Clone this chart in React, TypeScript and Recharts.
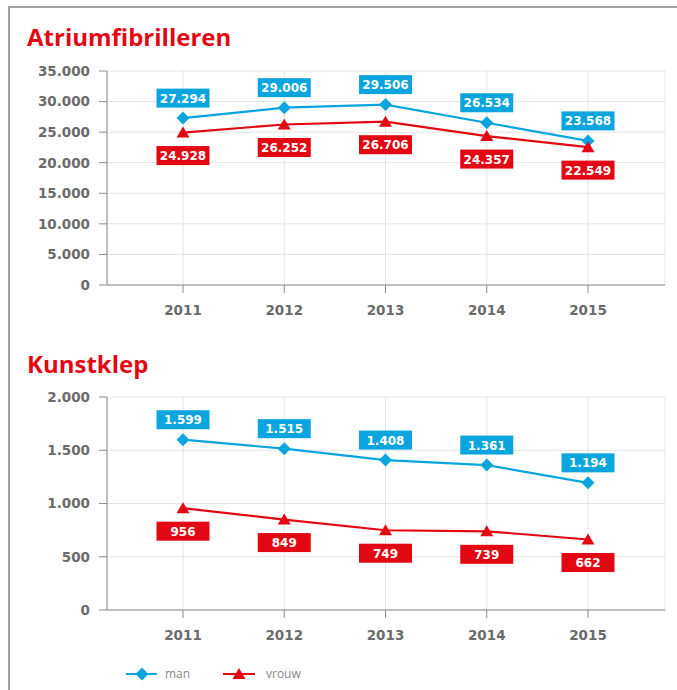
import React from "react";
import {
  CartesianGrid,
  LabelList,
  Line,
  LineChart,
  XAxis,
  YAxis,
} from "recharts";

const YEARS = ["2011", "2012", "2013", "2014", "2015"];

// Atriumfibrilleren
const AF_MAN = [27294, 29006, 29506, 26534, 23568];
const AF_VROUW = [24928, 26252, 26706, 24357, 22549];
const AF_TICKS = [0, 5000, 10000, 15000, 20000, 25000, 30000, 35000];

// Kunstklep
const KK_MAN = [1599, 1515, 1408, 1361, 1194];
const KK_VROUW = [956, 849, 749, 739, 662];
const KK_TICKS = [0, 500, 1000, 1500, 2000];

const BLUE = "#0aa5de";
const RED = "#e30613";
const GRAY_TEXT = "#6b6b6b";
const AXIS_GRAY = "#8c8c8c";
const GRID_GRAY = "#e4e4e4";
const TICK_FONT = "'DejaVu Sans', sans-serif";

const toRows = (man: number[], vrouw: number[]) =>
  YEARS.map((year, i) => ({ year, man: man[i], vrouw: vrouw[i] }));

const fmt = (n: number) =>
  String(n).replace(/\B(?=(\d{3})+(?!\d))/g, ".");

const tickStyle = {
  fill: GRAY_TEXT,
  fontSize: 13.5,
  fontWeight: 700,
  fontFamily: TICK_FONT,
};

function Diamond({ cx, cy, fill }: { cx?: number; cy?: number; fill: string }) {
  if (cx == null || cy == null) return null;
  return (
    <path
      d={`M${cx},${cy - 6.5} L${cx + 6.5},${cy} L${cx},${cy + 6.5} L${cx - 6.5},${cy} Z`}
      fill={fill}
    />
  );
}

function Triangle({ cx, cy, fill }: { cx?: number; cy?: number; fill: string }) {
  if (cx == null || cy == null) return null;
  return (
    <path
      d={`M${cx},${cy - 6} L${cx + 6.5},${cy + 5} L${cx - 6.5},${cy + 5} Z`}
      fill={fill}
    />
  );
}

// value box above (man) or below (vrouw) the point
function makeBoxLabel(color: string, offset: number) {
  return (props: any) => {
    const { x, y, value } = props;
    if (x == null || y == null) return null;
    const w = 53;
    const h = 19;
    const cy = y + offset;
    return (
      <g>
        <rect x={x - w / 2} y={cy - h / 2} width={w} height={h} fill={color} />
        <text
          x={x}
          y={cy + 4.5}
          textAnchor="middle"
          fill="#fff"
          fontSize={12}
          fontWeight={700}
          fontFamily={TICK_FONT}
        >
          {fmt(value)}
        </text>
      </g>
    );
  };
}

function Chart({
  data,
  ticks,
  top,
  bottom,
}: {
  data: { year: string; man: number; vrouw: number }[];
  ticks: number[];
  top: number;
  bottom: number;
}) {
  return (
    <LineChart
      width={677}
      height={330}
      data={data}
      margin={{ top, right: 12, bottom, left: 0 }}
    >
      <CartesianGrid stroke={GRID_GRAY} />
      <XAxis
        dataKey="year"
        padding={{ left: 76, right: 77 }}
        height={30}
        tickSize={8}
        tickMargin={12}
        stroke={AXIS_GRAY}
        tick={tickStyle}
      />
      <YAxis
        width={107}
        domain={[0, ticks[ticks.length - 1]]}
        ticks={ticks}
        tickFormatter={fmt}
        tickSize={8}
        tickMargin={9}
        stroke={AXIS_GRAY}
        tick={tickStyle}
        interval={0}
      />
      <Line
        dataKey="man"
        stroke={BLUE}
        strokeWidth={2.2}
        dot={(p: any) => <Diamond key={`m${p.index}`} cx={p.cx} cy={p.cy} fill={BLUE} />}
        activeDot={false}
        isAnimationActive={false}
      >
        <LabelList dataKey="man" content={makeBoxLabel(BLUE, -20)} />
      </Line>
      <Line
        dataKey="vrouw"
        stroke={RED}
        strokeWidth={2.2}
        dot={(p: any) => <Triangle key={`v${p.index}`} cx={p.cx} cy={p.cy} fill={RED} />}
        activeDot={false}
        isAnimationActive={false}
      >
        <LabelList dataKey="vrouw" content={makeBoxLabel(RED, 23)} />
      </Line>
    </LineChart>
  );
}

const TITLE_STYLE = {
  fill: RED,
  fontSize: 24,
  fontWeight: 700,
  fontFamily: "'Open Sans', sans-serif",
} as const;

export default function App() {
  return (
    <div style={{ position: "absolute", left: 0, top: 0, width: 677, height: 690, background: "#fff", overflow: "hidden" }}>
      <div style={{ position: "absolute", left: 0, top: 0 }}>
        <Chart data={toRows(AF_MAN, AF_VROUW)} ticks={AF_TICKS} top={71} bottom={15} />
      </div>
      <div style={{ position: "absolute", left: 0, top: 330 }}>
        <Chart data={toRows(KK_MAN, KK_VROUW)} ticks={KK_TICKS} top={67} bottom={20} />
      </div>
      <svg
        width={677}
        height={690}
        style={{ position: "absolute", left: 0, top: 0, pointerEvents: "none" }}
      >
        <path d="M9,690 L9,7 L677,7" fill="none" stroke="#a0a0a0" strokeWidth={2} />
        <text x={27} y={46} {...TITLE_STYLE}>Atriumfibrilleren</text>
        <text x={27} y={373} {...TITLE_STYLE}>Kunstklep</text>
        <g>
          <line x1={126} x2={157} y1={674} y2={674} stroke={BLUE} strokeWidth={2} />
          <Diamond cx={142} cy={674} fill={BLUE} />
          <text x={165} y={678} fill="#8a8a8a" fontSize={12} fontFamily="'Open Sans', sans-serif">man</text>
          <line x1={223} x2={255} y1={674} y2={674} stroke={RED} strokeWidth={2} />
          <Triangle cx={239} cy={674} fill={RED} />
          <text x={266} y={678} fill="#8a8a8a" fontSize={12} fontFamily="'Open Sans', sans-serif">vrouw</text>
        </g>
      </svg>
    </div>
  );
}
